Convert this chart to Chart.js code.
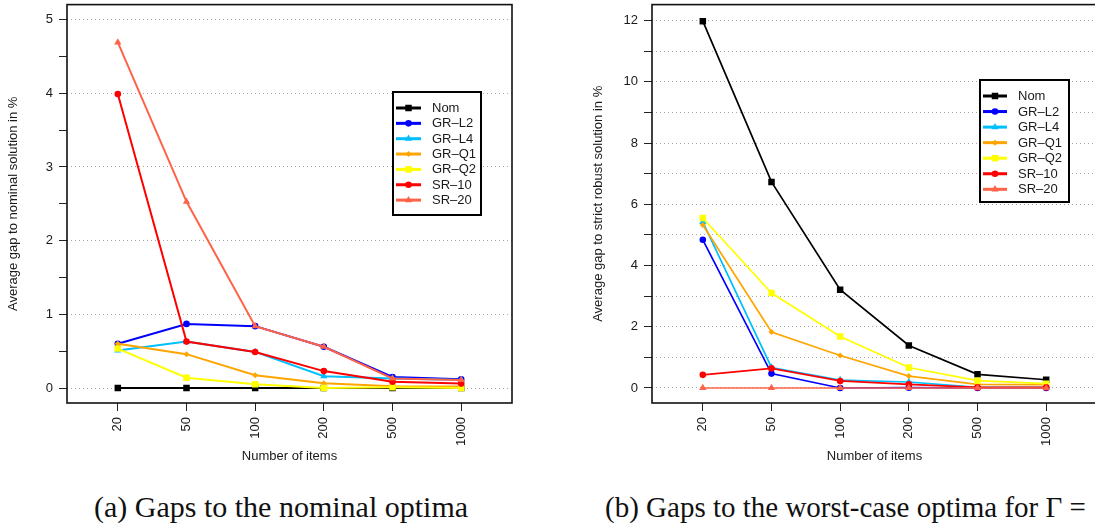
<!DOCTYPE html>
<html lang="en">
<head>
<meta charset="UTF-8" />
<title>Gaps to optima</title>
<script src="https://cdn.jsdelivr.net/npm/chart.js"></script>
<style>
  html, body {
    margin: 0;
    padding: 0;
    background: #fff;
    width: 1095px;
    height: 524px;
    overflow: hidden;
    position: relative;
  }
  .panel {
    position: absolute;
    top: 0;
    width: 547px;
    height: 470px;
  }
  .caption {
    position: absolute;
    top: 492px;
    font-family: "Liberation Serif", "DejaVu Serif", serif;
    font-size: 30px;
    line-height: 30px;
    color: #111;
    white-space: nowrap;
  }
</style>
</head>
<body>

<div class="panel" style="left:0"><canvas id="chartA" width="547" height="470"></canvas></div>
<div class="panel" style="left:585px"><canvas id="chartB" width="547" height="470"></canvas></div>
<div class="caption" style="left:94px">(a) Gaps to the nominal optima</div>
<div class="caption" style="left:605px; font-size:29px">(b) Gaps to the worst-case optima for &Gamma; =</div>

<script>
  // x categories (number of items)
  const items = ['20', '50', '100', '200', '500', '1000'];
  const seriesNames = ['Nom', 'GR\u2013L2', 'GR\u2013L4', 'GR\u2013Q1', 'GR\u2013Q2', 'SR\u201310', 'SR\u201320'];

  // (a) gap to nominal solution in %
  const nomA  = [0, 0, 0, 0, 0, 0];
  const grL2A = [0.60, 0.87, 0.84, 0.56, 0.15, 0.12];
  const grL4A = [0.51, 0.63, 0.49, 0.16, 0.13, 0.11];
  const grQ1A = [0.60, 0.46, 0.175, 0.065, 0.025, 0.02];
  const grQ2A = [0.535, 0.14, 0.05, 0.0, 0.01, 0.0];
  const sr10A = [3.99, 0.63, 0.49, 0.23, 0.085, 0.06];
  const sr20A = [4.69, 2.53, 0.84, 0.56, 0.13, 0.11];

  // (b) gap to strict robust solution in %
  const nomB  = [11.98, 6.73, 3.21, 1.39, 0.445, 0.27];
  const grL2B = [4.84, 0.47, 0, 0.01, 0, 0];
  const grL4B = [5.42, 0.67, 0.26, 0.195, 0.02, 0.02];
  const grQ1B = [5.32, 1.83, 1.06, 0.39, 0.12, 0.11];
  const grQ2B = [5.55, 3.10, 1.68, 0.67, 0.24, 0.14];
  const sr10B = [0.43, 0.64, 0.23, 0.12, 0.02, 0.02];
  const sr20B = [0, 0, 0, 0, 0, 0];

  const yTicksA = [0, 0.5, 1, 1.5, 2, 2.5, 3, 3.5, 4, 4.5, 5];
  const yTicksB = [0, 1, 2, 3, 4, 5, 6, 7, 8, 9, 10, 11, 12];

  const colors = ['#000000', '#0000ff', '#00bfff', '#ffa500', '#ffff00', '#ff0000', '#ff6347'];
  const markers = ['rect', 'circle', 'triangle', 'rectRot', 'rect', 'circle', 'triangle'];
  const markerSize = [4.6, 3.3, 4.2, 3.0, 4.6, 3.3, 4.2];

  const textColor = '#1a1a1a';
  const font = { family: '"Liberation Sans", Arial, sans-serif', size: 13 };

  function drawMarker(ctx, style, x, y, r, color) {
    ctx.fillStyle = color;
    ctx.beginPath();
    if (style === 'circle') {
      ctx.arc(x, y, r, 0, Math.PI * 2);
    } else if (style === 'rect') {
      const s = r * Math.SQRT1_2;
      ctx.rect(x - s, y - s, 2 * s, 2 * s);
    } else if (style === 'rectRot') {
      ctx.moveTo(x, y - r); ctx.lineTo(x + r, y); ctx.lineTo(x, y + r); ctx.lineTo(x - r, y);
      ctx.closePath();
    } else {
      const h = r * 1.5;
      ctx.moveTo(x, y - r); ctx.lineTo(x + h * 0.577, y + r * 0.5); ctx.lineTo(x - h * 0.577, y + r * 0.5);
      ctx.closePath();
    }
    ctx.fill();
  }

  // R-style boxed legend, positioned in canvas pixels
  const boxLegend = {
    id: 'boxLegend',
    afterDraw(chart, args, opts) {
      const ctx = chart.ctx;
      ctx.save();
      ctx.fillStyle = '#fff';
      ctx.fillRect(opts.x, opts.y, opts.w, opts.h);
      ctx.lineWidth = 2;
      ctx.strokeStyle = '#000';
      ctx.strokeRect(opts.x, opts.y, opts.w, opts.h);
      chart.data.datasets.forEach((ds, i) => {
        const y = opts.y + opts.first + i * opts.step;
        ctx.strokeStyle = ds.borderColor;
        ctx.lineWidth = 3;
        ctx.beginPath();
        ctx.moveTo(opts.x + opts.lineFrom, y);
        ctx.lineTo(opts.x + opts.lineTo, y);
        ctx.stroke();
        drawMarker(ctx, ds.pointStyle, opts.x + (opts.lineFrom + opts.lineTo) / 2, y, ds.pointRadius, ds.borderColor);
        ctx.fillStyle = textColor;
        ctx.font = '13px ' + font.family;
        ctx.textBaseline = 'middle';
        ctx.fillText(ds.label, opts.x + opts.textX, y + 0.5);
      });
      ctx.restore();
    }
  };

  // full box around the plot region
  const plotBox = {
    id: 'plotBox',
    afterDatasetsDraw(chart) {
      const { ctx, chartArea: a } = chart;
      ctx.save();
      ctx.lineWidth = 1.6;
      ctx.strokeStyle = '#111';
      ctx.strokeRect(a.left, a.top, a.right - a.left, a.bottom - a.top);
      ctx.restore();
    }
  };

  function makeDatasets(series, lineWidth) {
    return series.map((vals, i) => ({
      label: seriesNames[i],
      data: vals.map((v, k) => ({ x: k, y: v })),
      borderColor: colors[i],
      backgroundColor: colors[i],
      borderWidth: lineWidth,
      pointStyle: markers[i],
      pointRadius: markerSize[i],
      pointBorderWidth: 0,
      pointHoverRadius: markerSize[i],
      tension: 0,
      order: series.length - i
    }));
  }

  function makeChart(id, series, yTicks, yMin, yMax, labelEvery, yTitle, lineWidth, legendPos) {
    return new Chart(document.getElementById(id), {
      type: 'line',
      data: { datasets: makeDatasets(series, lineWidth) },
      options: {
        responsive: false,
        animation: false,
        events: [],
        layout: { padding: { left: 0, top: 3, right: 35, bottom: 0 } },
        plugins: {
          legend: { display: false },
          tooltip: { enabled: false },
          boxLegend: legendPos
        },
        scales: {
          x: {
            type: 'linear',
            min: -0.74,
            max: 5.74,
            afterBuildTicks: s => { s.ticks = items.map((_, k) => ({ value: k })); },
            afterFit: s => { s.height = 67; s.paddingLeft = 0; s.paddingRight = 0; },
            border: { display: false },
            grid: { drawOnChartArea: false, drawTicks: true, tickLength: 8, tickColor: '#222', tickWidth: 1 },
            ticks: {
              autoSkip: false,
              minRotation: 90,
              maxRotation: 90,
              padding: 6,
              color: textColor,
              font: font,
              callback: v => items[v]
            },
            title: { display: true, text: 'Number of items', color: textColor, font: font, padding: { top: 0, bottom: 6 } }
          },
          y: {
            min: yMin,
            max: yMax,
            afterBuildTicks: s => { s.ticks = yTicks.map(v => ({ value: v })); },
            afterFit: s => { s.width = 67; s.paddingTop = 0; s.paddingBottom = 0; },
            border: { display: false, dash: [1, 3] },
            grid: {
              drawTicks: true,
              tickLength: 8,
              tickColor: '#222',
              tickWidth: 1,
              tickBorderDash: [],
              lineWidth: 1,
              color: c => (c.tick && Number.isInteger(c.tick.value)) ? '#a6a6a6' : 'rgba(0,0,0,0)'
            },
            ticks: {
              autoSkip: false,
              padding: 6,
              color: textColor,
              font: font,
              callback: v => (v % labelEvery === 0 ? String(v) : '')
            },
            title: { display: true, text: yTitle, color: textColor, font: font, padding: { top: 6, bottom: 0 } }
          }
        }
      },
      plugins: [plotBox, boxLegend]
    });
  }

  makeChart('chartA',
    [nomA, grL2A, grL4A, grQ1A, grQ2A, sr10A, sr20A],
    yTicksA, -0.203, 5.203, 1,
    'Average gap to nominal solution in %', 2,
    { x: 393, y: 92, w: 88, h: 123, first: 16, step: 15.35, lineFrom: 3, lineTo: 28, textX: 39 });

  makeChart('chartB',
    [nomB, grL2B, grL4B, grQ1B, grQ2B, sr10B, sr20B],
    yTicksB, -0.49, 12.52, 2,
    'Average gap to strict robust solution in %', 1.7,
    { x: 395, y: 80, w: 89, h: 122, first: 16, step: 15.55, lineFrom: 3, lineTo: 27, textX: 38 });
</script>

</body>
</html>
